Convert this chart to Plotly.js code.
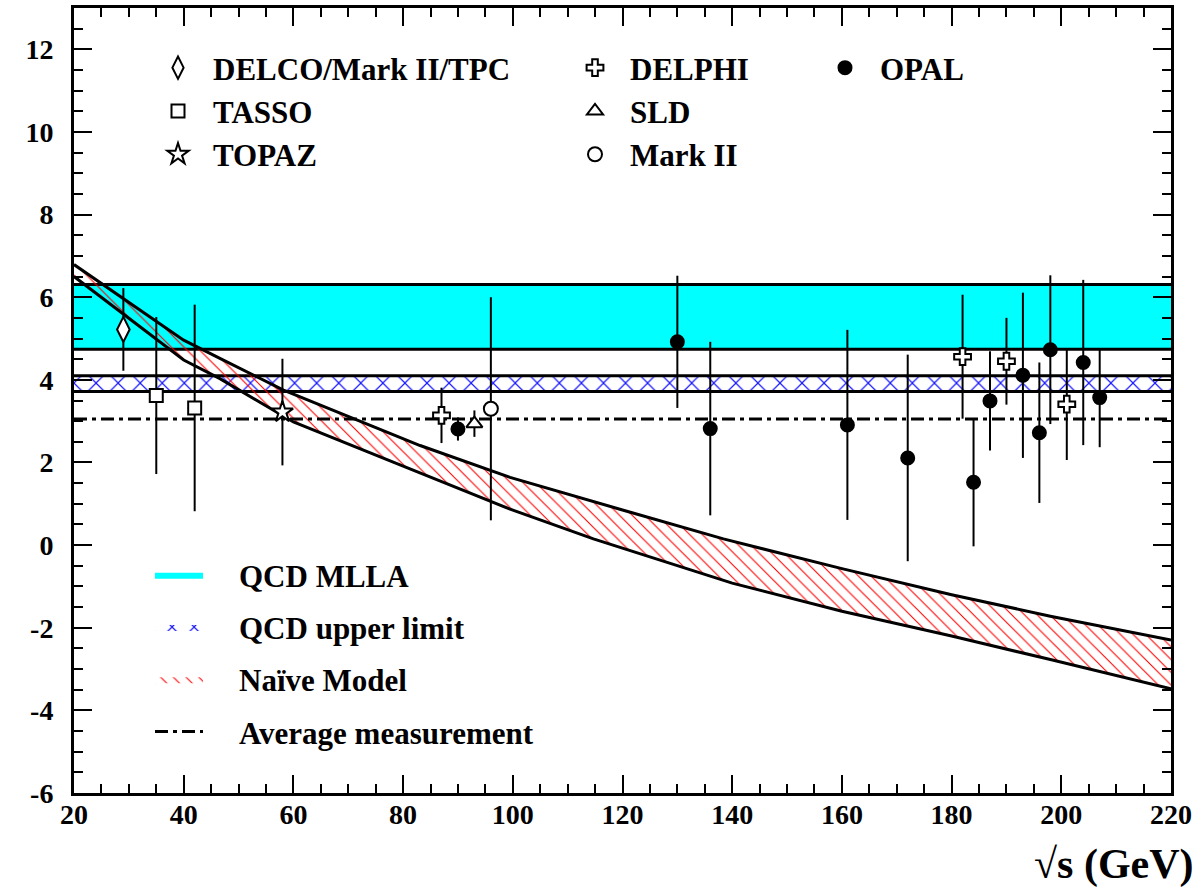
<!DOCTYPE html>
<html>
<head>
<meta charset="utf-8">
<script src="https://cdn.plot.ly/plotly-3.0.1.min.js"></script>
<style>html,body{margin:0;padding:0;background:#fff;}</style>
</head>
<body>
<div id="chart" style="width:1204px;height:891px;"></div>
<script>
// ---- data ----
const delcoX = [29],   delcoY = [5.22],  delcoErr = [1.0];
const tassoX = [35, 42], tassoY = [3.62, 3.32], tassoErr = [1.9, 2.5];
const topazX = [58],   topazY = [3.22],  topazErr = [1.29];
const delphiX = [87, 182, 190, 201];
const delphiY = [3.14, 4.56, 4.45, 3.41];
const delphiErr = [0.67, 1.5, 1.05, 1.35];
const sldX = [93],     sldY = [2.94],    sldErr = [0.32];
const markIIX = [96],  markIIY = [3.3],  markIIErr = [2.7];
const opalX = [90, 130, 136, 161, 172, 184, 187, 193, 196, 198, 204, 207];
const opalY = [2.81, 4.92, 2.82, 2.91, 2.11, 1.52, 3.49, 4.11, 2.72, 4.73, 4.42, 3.57];
const opalErr = [0.28, 1.6, 2.1, 2.3, 2.5, 1.55, 1.2, 2.0, 1.7, 1.8, 2.0, 1.2];

const bandX = [20, 220];
const mllaBand = [4.74, 6.31];        // QCD MLLA (low, high)
const qcdUpperBand = [3.72, 4.10];    // QCD upper limit (low, high)
const avgMeasurement = 3.05;

const naiveUpperX = [20, 40, 46.6, 58.2, 83.1, 99.5, 120, 138.4, 160, 180, 198, 220];
const naiveUpperY = [6.79, 4.96, 4.52, 3.75, 2.41, 1.64, 0.85, 0.15, -0.57, -1.2, -1.72, -2.30];
const naiveLowerX = [20, 40, 46.6, 60, 78.2, 99.5, 114.7, 140, 160, 180, 198, 220];
const naiveLowerY = [6.50, 4.48, 4.03, 2.98, 2.01, 0.87, 0.15, -0.92, -1.6, -2.2, -2.77, -3.48];

const xTickVals = [20, 40, 60, 80, 100, 120, 140, 160, 180, 200, 220];
const xTickLabels = ['20', '40', '60', '80', '100', '120', '140', '160', '180', '200', '220'];
const yTickVals = [-6, -4, -2, 0, 2, 4, 6, 8, 10, 12];
const yTickLabels = ['-6', '-4', '-2', '0', '2', '4', '6', '8', '10', '12'];

// ---- helpers ----
const FONT = 'Liberation Serif, Times New Roman, serif';
const PAD = '\u00a0\u00a0\u00a0\u00a0';
function rectX(xs) { return [xs[0], xs[1], xs[1], xs[0]]; }
function rectY(b) { return [b[0], b[0], b[1], b[1]]; }
function edgesX(xs) { return [xs[0], xs[1], null, xs[0], xs[1]]; }
function edgesY(b) { return [b[0], b[0], null, b[1], b[1]]; }

function pts(name, xs, ys, errs, symbol, size, filled, legend, group) {
  return {
    type: 'scatter', mode: 'markers', name: name, x: xs, y: ys,
    legend: legend, legendgroup: group,
    error_y: {type: 'data', array: errs, visible: true, color: 'black', thickness: 2, width: 0},
    marker: {symbol: symbol, size: size, color: filled ? 'black' : 'white',
             line: {color: 'black', width: 2}},
    cliponaxis: false
  };
}

const traces = [
  // QCD MLLA band
  {type: 'scatter', mode: 'lines', name: PAD + 'QCD MLLA', x: rectX(bandX), y: rectY(mllaBand),
   fill: 'toself', fillcolor: '#00FFFF', line: {width: 0, color: '#00FFFF'},
   legend: 'legend4', legendgroup: 'b1'},
  {type: 'scatter', mode: 'lines', x: edgesX(bandX), y: edgesY(mllaBand), showlegend: false,
   line: {color: 'black', width: 3}},
  // QCD upper limit band
  {type: 'scatter', mode: 'lines', name: PAD + 'QCD upper limit', x: rectX(bandX), y: rectY(qcdUpperBand),
   fill: 'toself', fillcolor: 'rgba(0,0,0,0)',
   fillpattern: {shape: 'x', fgcolor: '#1a1aff', bgcolor: 'rgba(0,0,0,0)', size: 15.6, solidity: 0.15},
   line: {width: 0, color: '#888'}, legend: 'legend4', legendgroup: 'b2'},
  {type: 'scatter', mode: 'lines', x: edgesX(bandX), y: edgesY(qcdUpperBand), showlegend: false,
   line: {color: 'black', width: 3}},
  // Naive model band
  {type: 'scatter', mode: 'lines', name: PAD + 'Naïve Model',
   x: naiveUpperX.concat(naiveLowerX.slice().reverse()),
   y: naiveUpperY.concat(naiveLowerY.slice().reverse()),
   fill: 'toself', fillcolor: 'rgba(0,0,0,0)',
   fillpattern: {shape: '\\', fgcolor: '#ff0000', bgcolor: 'rgba(0,0,0,0)', size: 9, solidity: 0.12},
   line: {width: 0, color: '#888'}, legend: 'legend4', legendgroup: 'b3'},
  {type: 'scatter', mode: 'lines', x: naiveUpperX.concat([null], naiveLowerX),
   y: naiveUpperY.concat([null], naiveLowerY), showlegend: false,
   line: {color: 'black', width: 3}},
  // Average measurement
  {type: 'scatter', mode: 'lines', name: PAD + 'Average measurement', x: bandX, y: [avgMeasurement, avgMeasurement],
   line: {color: 'black', width: 3, dash: '13px,5px,4px,5px'}, legend: 'legend4', legendgroup: 'b4'},
  // data points
  pts('DELCO/Mark II/TPC', delcoX, delcoY, delcoErr, 'diamond-tall', 18, false, 'legend', 'a1'),
  pts('TASSO', tassoX, tassoY, tassoErr, 'square', 13, false, 'legend', 'a2'),
  pts('TOPAZ', topazX, topazY, topazErr, 'star', 16, false, 'legend', 'a3'),
  pts('DELPHI', delphiX, delphiY, delphiErr, 'cross', 14, false, 'legend2', 'c1'),
  pts('SLD', sldX, sldY, sldErr, 'triangle-up', 14, false, 'legend2', 'c2'),
  pts('Mark II', markIIX, markIIY, markIIErr, 'circle', 14, false, 'legend2', 'c3'),
  pts('OPAL', opalX, opalY, opalErr, 'circle', 13, true, 'legend3', 'd1')
];

function px2x(px) { return (px - 74) / 1097; }
function px2y(py) { return (793 - py) / 785; }

const legFont = {family: FONT, size: 31, color: 'black', weight: 700};
function topLegend(xpx) {
  return {x: px2x(xpx), y: px2y(41), xanchor: 'left', yanchor: 'top', bgcolor: 'rgba(0,0,0,0)',
          borderwidth: 0, font: legFont, itemwidth: 60, traceorder: 'grouped', tracegroupgap: 0,
          itemclick: false};
}

const axisCommon = {
  ticks: 'inside', ticklen: 18, tickwidth: 2, tickcolor: 'black',
  showline: true, linewidth: 3, linecolor: 'black', mirror: 'ticks',
  showgrid: false, zeroline: false,
  tickfont: {family: FONT, size: 28, color: 'black', weight: 700}
};

const layout = {
  width: 1204, height: 891,
  margin: {l: 74, r: 33, t: 8, b: 98},
  paper_bgcolor: 'white', plot_bgcolor: 'white',
  font: {family: FONT, size: 22, color: 'black', weight: 700},
  showlegend: true,
  xaxis: Object.assign({}, axisCommon, {
    range: [20, 220], tickmode: 'array', tickvals: xTickVals, ticktext: xTickLabels,
    ticklabelstandoff: -6,
    minor: {dtick: 5, tick0: 20, ticks: 'inside', ticklen: 9, tickwidth: 2, tickcolor: 'black', showgrid: false}
  }),
  yaxis: Object.assign({}, axisCommon, {
    range: [-6, 13], tickmode: 'array', tickvals: yTickVals, ticktext: yTickLabels,
    ticklabelstandoff: 12,
    minor: {dtick: 0.5, tick0: 0, ticks: 'inside', ticklen: 9, tickwidth: 2, tickcolor: 'black', showgrid: false}
  }),
  legend: topLegend(143),
  legend2: topLegend(560),
  legend3: topLegend(810),
  legend4: {x: px2x(150), y: px2y(548), xanchor: 'left', yanchor: 'top', bgcolor: 'rgba(0,0,0,0)',
            borderwidth: 0, font: legFont, itemwidth: 48, traceorder: 'grouped', tracegroupgap: 9},
  annotations: [{
    xref: 'paper', yref: 'paper', x: px2x(1196), y: px2y(864), xanchor: 'right', yanchor: 'middle',
    text: '√s (GeV)', showarrow: false, font: {family: FONT, size: 42, color: 'black', weight: 700}
  }]
};

Plotly.newPlot('chart', traces, layout, {staticPlot: true, displayModeBar: false});
</script>
</body>
</html>
